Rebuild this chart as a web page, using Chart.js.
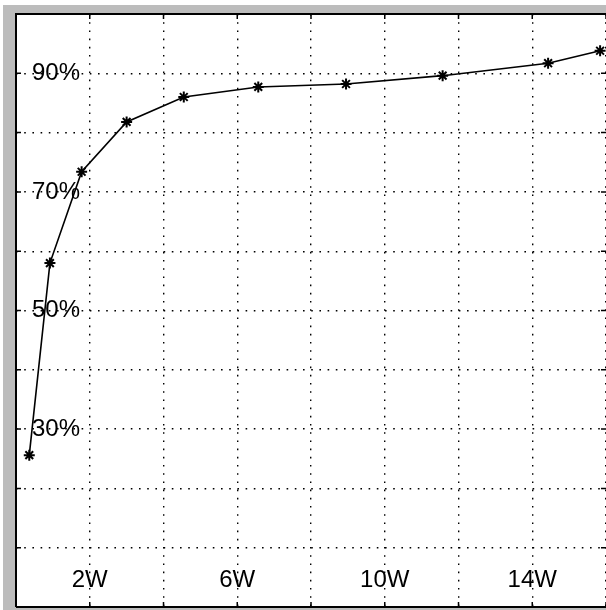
<!DOCTYPE html>
<html>
<head>
<meta charset="utf-8">
<script src="https://cdn.jsdelivr.net/npm/chart.js@4"></script>
<style>
  html, body { margin: 0; padding: 0; background: #fff; }
  #wrap { width: 606px; height: 610px; }
</style>
</head>
<body>
<div id="wrap"><canvas id="cv" width="606" height="610"></canvas></div>
<script>
// ---- data ----
const weeks = [0.36, 0.92, 1.78, 3.0, 4.55, 6.57, 8.95, 11.57, 14.43, 15.84];
const ratio = [25.6, 58.0, 73.4, 81.8, 86.0, 87.7, 88.2, 89.6, 91.7, 93.8];

const xLabelValues = [2, 6, 10, 14];
const xLabels = ["2W", "6W", "10W", "14W"];
const yLabelValues = [90, 70, 50, 30];
const yLabels = ["90%", "70%", "50%", "30%"];

const FONT = "'Liberation Sans', Arial, sans-serif";

// gray scanned frame + white plot box
const bgPlugin = {
  id: "bg",
  beforeDraw(chart) {
    const { ctx, chartArea: a } = chart;
    ctx.save();
    ctx.fillStyle = "#fff";
    ctx.fillRect(0, 0, chart.width, chart.height);
    ctx.fillStyle = "#bcbcbc";
    ctx.fillRect(3, 5, chart.width - 3, chart.height - 5);
    ctx.fillStyle = "#fff";
    ctx.fillRect(a.left, a.top, a.right - a.left, a.bottom - a.top);
    ctx.restore();
  }
};

// frame lines, inner tick marks, x labels inside the plot
const framePlugin = {
  id: "frame",
  afterDatasetsDraw(chart) {
    const { ctx, chartArea: a, scales } = chart;
    ctx.save();
    ctx.strokeStyle = "#000";
    ctx.lineWidth = 2;
    ctx.beginPath();
    ctx.moveTo(a.left, a.bottom);
    ctx.lineTo(a.left, a.top);
    ctx.lineTo(a.right, a.top);
    ctx.moveTo(a.left, a.bottom);
    ctx.lineTo(a.right, a.bottom);
    ctx.stroke();

    ctx.lineWidth = 1.5;
    ctx.beginPath();
    for (const t of scales.x.ticks) {
      const px = scales.x.getPixelForValue(t.value);
      ctx.moveTo(px, a.top); ctx.lineTo(px, a.top + 5);
      ctx.moveTo(px, a.bottom); ctx.lineTo(px, a.bottom - 5);
    }
    for (const t of scales.y.ticks) {
      const py = scales.y.getPixelForValue(t.value);
      ctx.moveTo(a.left, py); ctx.lineTo(a.left + 5, py);
      ctx.moveTo(a.right, py); ctx.lineTo(a.right - 5, py);
    }
    ctx.stroke();

    ctx.fillStyle = "#000";
    ctx.font = "24px " + FONT;
    ctx.textAlign = "center";
    ctx.textBaseline = "middle";
    xLabelValues.forEach((v, i) => {
      ctx.fillText(xLabels[i], scales.x.getPixelForValue(v), a.bottom - 27);
    });
    ctx.restore();
  }
};

const gridOpts = {
  color: "#000",
  lineWidth: 1.4,
  drawTicks: false
};

new Chart(document.getElementById("cv").getContext("2d"), {
  type: "line",
  data: {
    datasets: [{
      data: weeks.map((w, i) => ({ x: w, y: ratio[i] })),
      borderColor: "#000",
      borderWidth: 1.6,
      pointStyle: "star",
      pointRadius: 5.5,
      pointBorderWidth: 2,
      pointBorderColor: "#000",
      pointBackgroundColor: "#000",
      pointHoverRadius: 5.5,
      tension: 0,
      clip: false
    }]
  },
  options: {
    responsive: false,
    animation: false,
    events: [],
    layout: { autoPadding: false, padding: { left: 16, top: 14, right: 0, bottom: 3 } },
    plugins: { legend: { display: false }, tooltip: { enabled: false } },
    scales: {
      x: {
        type: "linear",
        min: 0, max: 16,
        grid: gridOpts,
        border: { display: false, dash: [1.6, 6.6] },
        afterFit(scale) {
          scale.height = 0;
          scale.paddingLeft = 0; scale.paddingRight = 0;
        },
        ticks: { stepSize: 2, display: false }
      },
      y: {
        min: 0, max: 100,
        grid: gridOpts,
        border: { display: false, dash: [1.6, 6.6] },
        afterFit(scale) {
          scale.width = 0;
          scale.paddingTop = 0; scale.paddingBottom = 0;
        },
        ticks: {
          stepSize: 10,
          mirror: true,
          padding: 16,
          autoSkip: false,
          color: "#000",
          font: { family: FONT, size: 24 },
          callback(v) {
            const i = yLabelValues.indexOf(v);
            return i >= 0 ? yLabels[i] : "";
          }
        }
      }
    }
  },
  plugins: [bgPlugin, framePlugin]
});
</script>
</body>
</html>
